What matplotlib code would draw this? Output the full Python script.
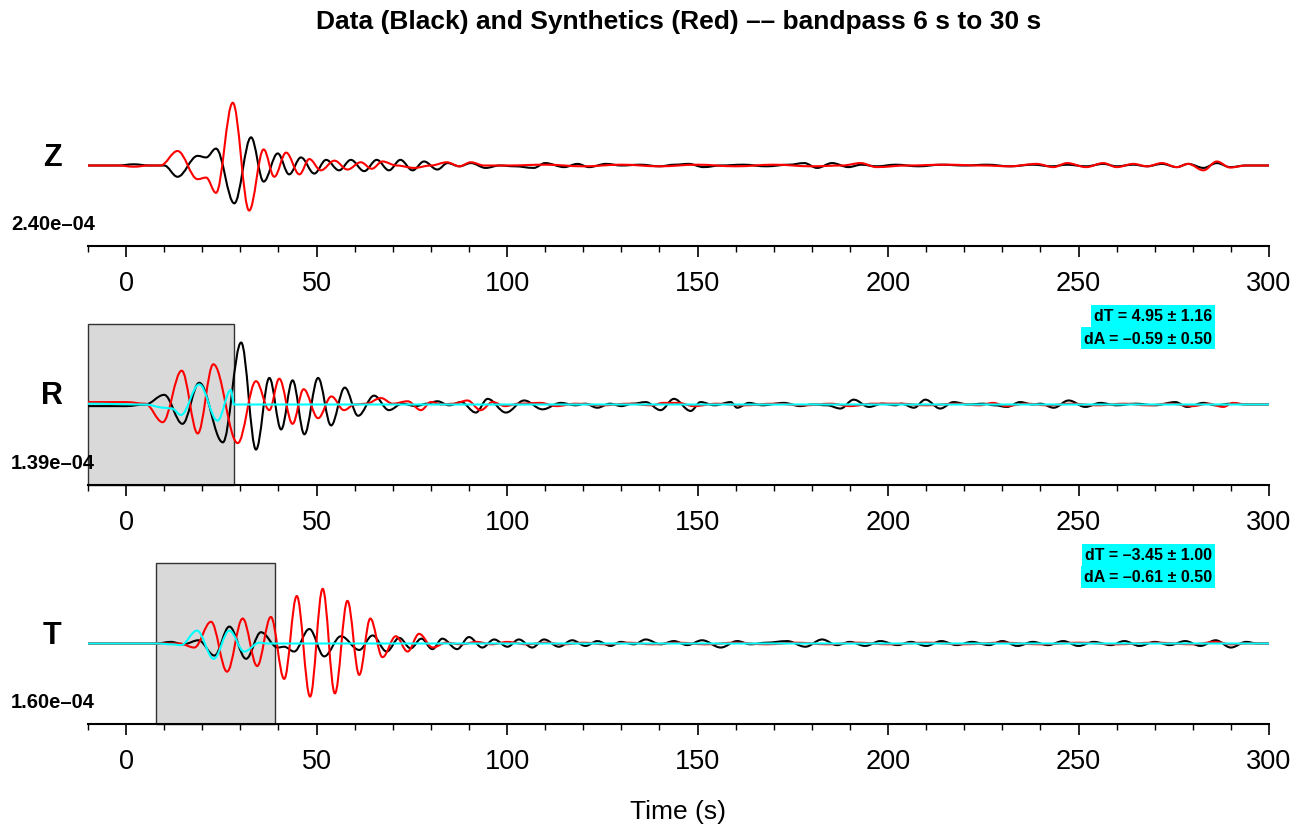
import matplotlib
matplotlib.use("Agg")
import matplotlib.pyplot as plt
from matplotlib.path import Path
from matplotlib.patches import PathPatch, Rectangle
from matplotlib.ticker import MultipleLocator

plt.rcParams['font.family'] = ['Liberation Sans', 'DejaVu Sans']

# ---- data (time in s, amplitude normalised to half panel height) ----
components = ["Z", "R", "T"]
amp_labels = ["2.40e\u201304", "1.39e\u201304", "1.60e\u201304"]

z_black_t = [-10, -2, 2, 6, 10, 13.5, 18.8, 21, 23.6, 28.4, 32.8, 36.1, 39.8, 42.8, 45.9, 49.4, 52.5, 55.9, 59, 62.5,
             65.8, 69, 72, 75.2, 78.2, 81.7, 84.4, 87.5, 90.5, 94.4, 98, 102, 107, 110, 115, 118.5, 121.5, 126, 130,
             135, 140, 144, 147.7, 151.6, 156, 162, 168, 174, 178, 181.4, 185.3, 189.6, 193, 197, 202, 208, 214, 220,
             226, 232, 238, 243, 247, 252, 256.5, 260, 264.4, 268, 271.9, 275.8, 278.8, 282.8, 286.3, 289.8, 294, 300]
z_black_a = [0, 0, 0.015, 0, 0, -0.14, 0.12, 0.10, 0.21, -0.47, 0.35, -0.20, 0.15, -0.11, 0.10, -0.10, 0.07, -0.06,
             0.07, -0.07, 0.07, -0.06, 0.07, -0.06, 0.05, -0.05, 0.03, -0.01, 0.03, -0.03, 0, -0.01, -0.03, 0.03,
             -0.02, 0.02, -0.02, 0.02, 0, 0.01, -0.01, 0.01, 0.02, -0.02, 0, 0.01, -0.01, 0.01, 0.03, -0.03, 0.03,
             -0.02, 0.01, -0.01, 0.01, -0.01, 0.01, 0, 0.01, -0.01, 0.01, -0.01, 0.01, -0.01, 0.02, -0.01, 0.01,
             -0.01, 0.02, -0.02, 0.02, -0.03, 0.03, -0.02, 0, 0]
z_red_t = [-10, -2, 2, 6, 9, 13.5, 18.8, 21, 23.6, 28, 32.3, 36.1, 38.9, 42, 45.5, 48.1, 51.1, 54.7, 58.1, 61.6,
           64.5, 67.3, 71, 75.6, 80, 84.2, 87.5, 90.5, 94, 100, 110, 120, 130, 140, 150, 160, 170, 180, 188, 192.8,
           197, 205, 215, 225, 232, 239, 243.4, 247, 252, 256.5, 260, 264.4, 268, 271.9, 275.8, 278.8, 282.8, 286.3,
           289.8, 294, 300]
z_red_a = [0, 0, -0.015, 0, 0, 0.18, -0.17, -0.15, -0.34, 0.78, -0.56, 0.20, -0.14, 0.16, -0.11, 0.08, -0.06, 0.06,
           -0.05, 0.04, -0.04, 0.05, 0, -0.03, 0, 0.04, -0.01, 0.04, 0, 0, 0.01, -0.01, 0.01, -0.01, 0.01, -0.01,
           0.01, -0.01, 0, 0.03, -0.02, 0, 0.01, 0, -0.01, 0.02, -0.02, 0.03, -0.02, 0.03, -0.02, 0.02, -0.01, 0.03,
           -0.02, 0.02, -0.06, 0.05, -0.025, 0, 0]

r_black_t = [-10, 0, 5, 10, 14.8, 19.2, 25.4, 30.2, 34.1, 37.6, 40.7, 43.7, 46.8, 50.4, 53.8, 57.4, 60.9, 65.1, 69,
             72.5, 76, 79, 81.7, 84.8, 87.9, 91.8, 94.9, 99.7, 104.5, 109.3, 114.1, 118, 120.5, 123.7, 127, 130, 133,
             136.4, 140.3, 143.8, 148.2, 150.8, 154.5, 158.7, 160.4, 163.5, 167, 172.6, 177, 180, 184, 187.5, 191,
             195, 198.5, 202, 203.5, 206.8, 209.8, 213.7, 217.2, 221, 225, 228, 231.2, 234.7, 238, 240, 243.5, 247.4,
             251.8, 255.7, 260, 265, 270, 275.4, 278.5, 282.8, 286, 290, 295, 300]
r_black_a = [-0.02, -0.02, 0, 0.12, -0.24, 0.27, -0.47, 0.77, -0.56, 0.33, -0.31, 0.30, -0.37, 0.33, -0.26, 0.21,
             -0.14, 0.11, -0.07, 0.01, -0.02, 0.01, 0.04, -0.01, 0.03, -0.10, 0.07, -0.10, 0.05, -0.06, 0.02, -0.01,
             0.01, -0.04, 0.01, -0.02, 0.01, 0.03, -0.07, 0.07, -0.08, 0.03, -0.01, 0.03, -0.04, 0.02, -0.01, 0.02,
             -0.02, 0, -0.01, -0.05, 0.06, -0.03, 0.01, -0.01, 0.01, -0.04, 0.06, -0.05, 0.03, 0, 0.01, -0.01,
             -0.03, 0.03, 0, 0.01, -0.04, 0.05, -0.03, 0.02, -0.01, 0.01, -0.01, 0.03, -0.03, 0.02, -0.01, 0.01, 0, 0]
r_red_t = [-10, 0, 5, 9.6, 14.6, 18.8, 22.9, 29.3, 34.1, 37.6, 40.2, 43.7, 46.6, 50.4, 53.9, 57.2, 60, 63, 66.9, 70,
           73.9, 77.4, 80, 83, 86, 89.6, 93.1, 96.2, 99.5, 103, 108.8, 113, 118, 125, 132, 138, 141, 145, 149, 155,
           162, 170, 178, 185, 190, 196, 203, 210, 218, 224, 227.6, 231, 236, 242, 248, 255, 262, 268, 274, 280,
           284, 288, 290.6, 294, 300]
r_red_a = [0.03, 0.03, 0.01, -0.22, 0.42, -0.36, 0.50, -0.48, 0.29, -0.07, 0.32, -0.24, 0.19, -0.17, 0.10, -0.07,
           0.0, 0.01, 0.08, 0.01, 0.04, -0.07, 0.03, 0, 0.01, 0.05, -0.07, 0.03, -0.02, 0.01, 0.02, -0.02, 0.01,
           -0.01, 0.01, -0.01, 0.02, 0.02, -0.02, 0.01, -0.01, 0.01, -0.01, 0.01, -0.02, 0.01, 0.01, -0.01, 0.01,
           -0.01, 0.02, -0.02, 0.01, -0.01, 0.01, -0.01, 0.01, -0.01, 0.01, -0.02, 0.01, -0.03, 0.02, 0, 0]
r_cyan_t = [-10, 5, 10, 12, 14.4, 19.2, 24, 27.5, 28.3, 300]
r_cyan_a = [0.01, 0.0, -0.04, -0.05, -0.13, 0.25, -0.20, 0.18, 0, 0]

t_black_t = [-10, 5, 8, 11.8, 15, 19, 23.2, 27.1, 31.5, 35.4, 39.8, 41.5, 44.1, 48.1, 52, 56.4, 61.2, 64.7, 68.4,
             71.7, 74.7, 77.5, 80.4, 83.0, 86.9, 90.0, 93.5, 96.6, 100.1, 103.1, 106.6, 109.7, 113.6, 117.1, 120.6,
             123.7, 127.2, 129.8, 133.3, 136.4, 140.3, 143.8, 147.3, 151.2, 156.1, 160.4, 163.9, 168, 173.5, 178.3,
             182.7, 186.6, 190, 194, 198, 202.5, 206, 210, 214, 218, 222, 226.5, 230, 234, 238, 242, 246, 250, 254,
             258.5, 262, 266, 270, 274, 278, 282, 286, 290, 294, 297, 300]
t_black_a = [0, 0, 0, 0.02, -0.01, 0.04, -0.15, 0.21, -0.19, 0.14, -0.05, -0.04, -0.10, 0.18, -0.16, 0.09, -0.08,
             0.10, -0.10, 0.07, -0.06, 0.06, -0.07, 0.06, -0.07, 0.08, -0.05, 0.05, -0.04, 0.05, -0.05, 0.05, -0.04,
             0.04, -0.03, 0.03, -0.03, 0.02, -0.01, 0.05, -0.01, 0.03, -0.02, 0.04, -0.05, 0.03, -0.01, 0.01, 0.03,
             -0.04, 0.05, -0.02, 0.02, -0.03, 0.03, -0.02, 0.02, -0.03, 0.03, -0.02, 0.02, -0.02, 0.03, -0.03, 0.02,
             -0.02, 0.03, -0.03, 0.02, -0.02, 0.03, -0.03, 0.02, -0.02, 0.03, -0.03, 0.04, -0.05, 0.02, 0, 0]
t_red_t = [-10, 10, 14, 17.9, 22.3, 26.5, 30.6, 34.4, 38, 41.5, 44.8, 48.3, 51.6, 54.8, 58.1, 61.2, 64.1, 67.3, 70.8,
           73.9, 76.9, 80.5, 84, 88, 92, 96, 100, 105, 110, 115, 120, 126, 132, 138, 145, 152, 160, 168, 176, 184,
           192, 200, 210, 220, 230, 240, 250, 260, 270, 280, 286, 290, 294, 300]
t_red_a = [0, 0, 0, -0.05, 0.27, -0.35, 0.31, -0.28, 0.33, -0.44, 0.59, -0.66, 0.68, -0.62, 0.53, -0.39, 0.31, -0.17,
           0.09, -0.10, 0.12, -0.05, 0.01, -0.01, 0.02, -0.01, 0.02, -0.01, 0.01, -0.01, 0.01, -0.01, 0.01, -0.01,
           0.01, -0.01, 0.01, -0.01, 0.01, -0.01, 0.01, -0.01, 0.01, -0.01, 0.01, -0.01, 0.01, -0.01, 0.01, -0.01,
           0.02, -0.01, 0, 0]
t_cyan_t = [-10, 8, 12, 14.4, 18.6, 23, 27.1, 31, 35, 37, 300]
t_cyan_a = [0, 0, -0.01, -0.02, 0.16, -0.19, 0.16, -0.10, 0.01, 0, 0]

windows = [None, (-10, 28.3), (7.9, 39.0)]
meas = [None,
        ("dT = 4.95 \u00b1 1.16", "dA = \u20130.59 \u00b1 0.50"),
        ("dT = \u20133.45 \u00b1 1.00", "dA = \u20130.61 \u00b1 0.50")]

traces = [
    [(z_black_t, z_black_a, "black"), (z_red_t, z_red_a, "red")],
    [(r_black_t, r_black_a, "black"), (r_red_t, r_red_a, "red"), (r_cyan_t, r_cyan_a, "cyan")],
    [(t_black_t, t_black_a, "black"), (t_red_t, t_red_a, "red"), (t_cyan_t, t_cyan_a, "cyan")],
]


def wave(ax, t, a, color, lw, z):
    # smooth curve through the picked extrema (horizontal tangents at each point)
    k = 0.3634
    verts = [(t[0], a[0])]
    codes = [Path.MOVETO]
    for i in range(1, len(t)):
        dt = t[i] - t[i - 1]
        verts += [(t[i - 1] + k * dt, a[i - 1]), (t[i] - k * dt, a[i]), (t[i], a[i])]
        codes += [Path.CURVE4] * 3
    ax.add_patch(PathPatch(Path(verts, codes), fill=False, ec=color, lw=lw, zorder=z,
                           capstyle="round", joinstyle="round"))


W, H = 1309, 829
fig = plt.figure(figsize=(W / 100, H / 100), dpi=100)

left, right = 88 / W, 1269 / W
bottoms = [247, 486, 725]
ph = 161

for i, comp in enumerate(components):
    yb = bottoms[i]
    ax = fig.add_axes([left, 1 - yb / H, right - left, ph / H])
    ax.set_xlim(-10, 300)
    ax.set_ylim(-1, 1)
    for s in ["left", "right", "top"]:
        ax.spines[s].set_visible(False)
    ax.spines["bottom"].set_linewidth(1.5)
    ax.set_yticks([])
    ax.xaxis.set_major_locator(MultipleLocator(50))
    ax.xaxis.set_minor_locator(MultipleLocator(10))
    ax.tick_params(axis="x", which="major", length=8, width=1.2, pad=9, labelsize=19.5)
    ax.tick_params(axis="x", which="minor", length=4, width=1.0)
    ax.set_facecolor("none")

    if windows[i] is not None:
        w0, w1 = windows[i]
        ax.add_patch(Rectangle((w0, -1), w1 - w0, 2, fc="#d9d9d9", ec="#333333", lw=1.0, zorder=1,
                               clip_on=False))

    zs = {"black": 2, "red": 3, "cyan": 4}
    for tt, aa, c in traces[i]:
        wave(ax, tt, aa, c, 1.5, zs[c])

    yc = yb - ph / 2
    fig.text(52 / W, 1 - (yc - 9) / H, comp, ha="center", va="center", fontsize=22, fontweight="bold")
    fig.text(95 / W, 1 - (yc + 58) / H, amp_labels[i], ha="right", va="center", fontsize=14.5,
             fontweight="bold")

    if meas[i] is not None:
        ytop = yb - ph - 9
        for j, line in enumerate(meas[i]):
            fig.text(1212 / W, 1 - (ytop + 1 + 22 * j) / H, line, ha="right", va="center", fontsize=11.5,
                     fontweight="bold",
                     bbox=dict(boxstyle="square,pad=0.2", fc="#00ffff", ec="none"))

fig.text(679 / W, 1 - 22 / H, "Data (Black) and Synthetics (Red) \u2013\u2013 bandpass 6 s to 30 s",
         ha="center", va="center", fontsize=19, fontweight="bold")
fig.text(678 / W, 1 - 812 / H, "Time (s)", ha="center", va="center", fontsize=19)

fig.savefig("out.png", dpi=100)
